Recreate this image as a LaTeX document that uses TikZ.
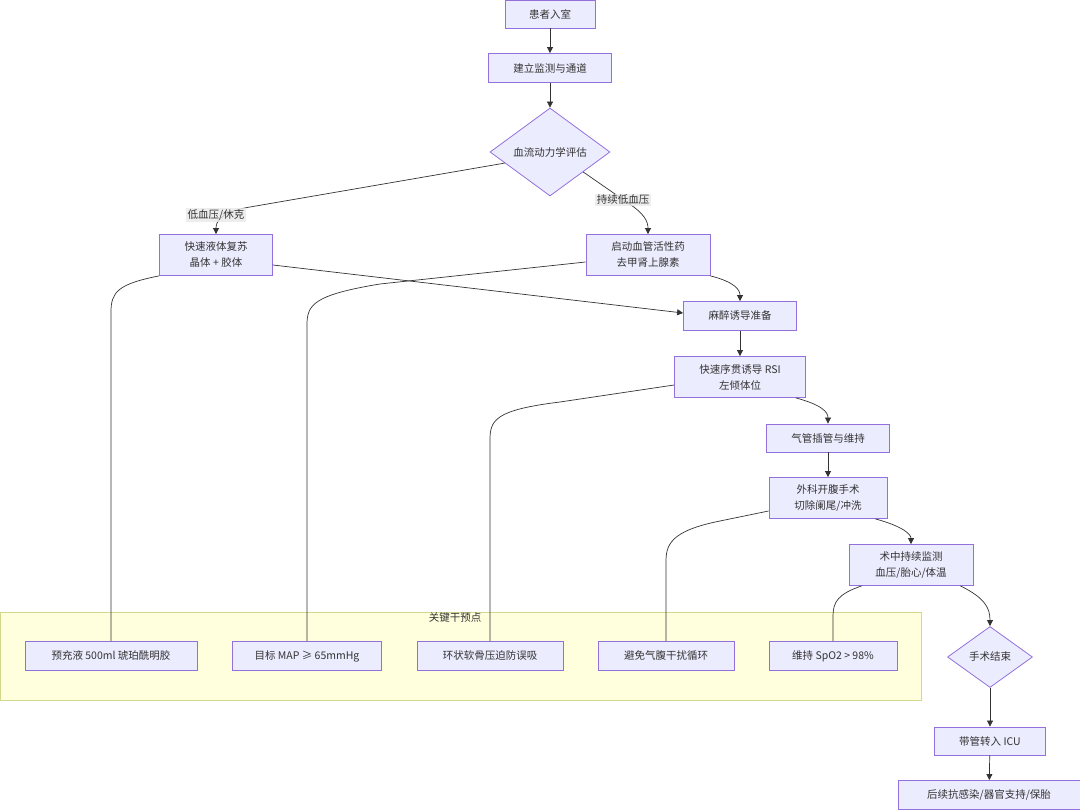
\documentclass[tikz,border=0pt]{standalone}
\usepackage{fontspec}
\setmainfont{Noto Sans CJK SC}
\usetikzlibrary{shapes.geometric,arrows.meta,calc}
\definecolor{nodefill}{HTML}{ECECFF}
\definecolor{nodeline}{HTML}{9370DB}
\definecolor{clfill}{HTML}{FFFFDE}
\definecolor{clline}{HTML}{D2D98C}
\definecolor{edgec}{HTML}{333333}
\definecolor{lblbg}{HTML}{E8E8E8}
\begin{document}
\begin{tikzpicture}[x=1pt,y=-1pt,
  box/.style={draw=nodeline, fill=nodefill, line width=0.8pt, align=center,
    font=\fontsize{10.5}{16}\selectfont, inner sep=0pt, text=black!80},
  dia/.style={diamond, draw=nodeline, fill=nodefill, line width=0.8pt,
    font=\fontsize{10.5}{16}\selectfont, inner sep=0pt, text=black!80},
  flow/.style={draw=edgec, line width=0.7pt, -{Triangle[length=6pt,width=6pt]}},
  link/.style={draw=edgec, line width=0.7pt},
  lbl/.style={fill=lblbg, fill opacity=0.8, text opacity=1, inner sep=1.5pt,
    font=\fontsize{10.5}{13}\selectfont, text=black!80}
]
\useasboundingbox (0,0) rectangle (1080,810);

% cluster
\node[draw=clline, fill=clfill, line width=1pt, minimum width=921, minimum height=88,
  anchor=north west, inner sep=0pt] (cl) at (0,612) {};
\node[font=\fontsize{10.5}{13}\selectfont, text=black!80] (cllbl) at (455,618) {关键干预点};

% main nodes
\node[box, minimum width=90, minimum height=28] (start) at (550,14) {患者入室};
\node[box, minimum width=123, minimum height=29] (mon) at (550,68) {建立监测与通道};
\node[dia, minimum width=120, minimum height=88] (hemo) at (550,152) {血流动力学评估};
\node[box, minimum width=113, minimum height=41] (fluid) at (216,255) {快速液体复苏\\晶体 + 胶体};
\node[box, minimum width=124, minimum height=41] (vaso) at (648,255) {启动血管活性药\\去甲肾上腺素};
\node[box, minimum width=113, minimum height=29] (induct) at (740,316) {麻醉诱导准备};
\node[box, minimum width=131, minimum height=41] (rsi) at (740,377) {快速序贯诱导 RSI\\左倾体位};
\node[box, minimum width=123, minimum height=28] (intub) at (828,438) {气管插管与维持};
\node[box, minimum width=118, minimum height=41] (surg) at (828,498) {外科开腹手术\\切除阑尾/冲洗};
\node[box, minimum width=124, minimum height=41] (mon2) at (911,565) {术中持续监测\\血压/胎心/体温};
\node[dia, minimum width=85, minimum height=61] (fin) at (990,657) {手术结束};
\node[box, minimum width=111, minimum height=28] (icu) at (990,741) {带管转入 ICU};
\node[box, minimum width=182, minimum height=29] (post) at (989,795) {后续抗感染/器官支持/保胎};

% cluster nodes
\node[box, minimum width=172, minimum height=29] (pre) at (111,656) {预充液 500ml 琥珀酰明胶};
\node[box, minimum width=149, minimum height=29] (map) at (307,656) {目标 MAP ≥ 65mmHg};
\node[box, minimum width=146, minimum height=29] (cric) at (490,656) {环状软骨压迫防误吸};
\node[box, minimum width=136, minimum height=29] (pneu) at (666,656) {避免气腹干扰循环};
\node[box, minimum width=128, minimum height=29] (spo) at (833,656) {维持 SpO2 > 98\%};

% edges
\draw[flow] (start) -- (mon);
\draw[flow] (mon) -- (hemo);
\draw[flow] ($(hemo.west)!0.25!(hemo.south)$) -- (250,207)
  .. controls (220,212) and (216,222) .. (fluid.north);
\draw[flow] ($(hemo.east)!0.45!(hemo.south)$) -- (628,203)
  .. controls (645,214) and (648,222) .. (vaso.north);
\node[lbl] (l1) at (216,215) {低血压/休克};
\node[lbl] (l2) at (623,200) {持续低血压};

\draw[flow] ($(fluid.east)+(0,10)$) -- ($(induct.west)+(0,-3)$);
\draw[flow] (vaso.south east) .. controls (735,282) and (740,290) .. (induct.north);
\draw[link] (fluid.south west) .. controls (118,284) and (111,292) .. (111,312) -- (pre.north);
\draw[link] ($(vaso.west)+(0,7)$) -- (380,284) .. controls (313,295) and (307,305) .. (307,325) -- (map.north);
\draw[flow] (induct) -- (rsi);
\draw[link] ($(rsi.west)+(0,8)$) -- (560,402) .. controls (495,410) and (490,420) .. (490,440) -- (cric.north);
\draw[flow] ($(rsi.south east)+(-10,0)$) .. controls (822,405) and (828,412) .. (intub.north);
\draw[flow] (intub) -- (surg);
\draw[link] ($(surg.west)+(0,13)$) -- (720,521) .. controls (670,531) and (666,545) .. (666,562) -- (pneu.north);
\draw[flow] ($(surg.south east)+(-12,0)$) .. controls (905,527) and (911,535) .. (mon2.north);
\draw[link] ($(mon2.south west)+(13,0)$) .. controls (838,594) and (833,602) .. (833,616) -- (spo.north);
\draw[flow] ($(mon2.south east)+(-13,0)$) .. controls (985,598) and (990,608) .. (fin.north);
\draw[flow] (fin) -- (icu);
\draw[flow] (icu) -- (post);
\end{tikzpicture}
\end{document}
